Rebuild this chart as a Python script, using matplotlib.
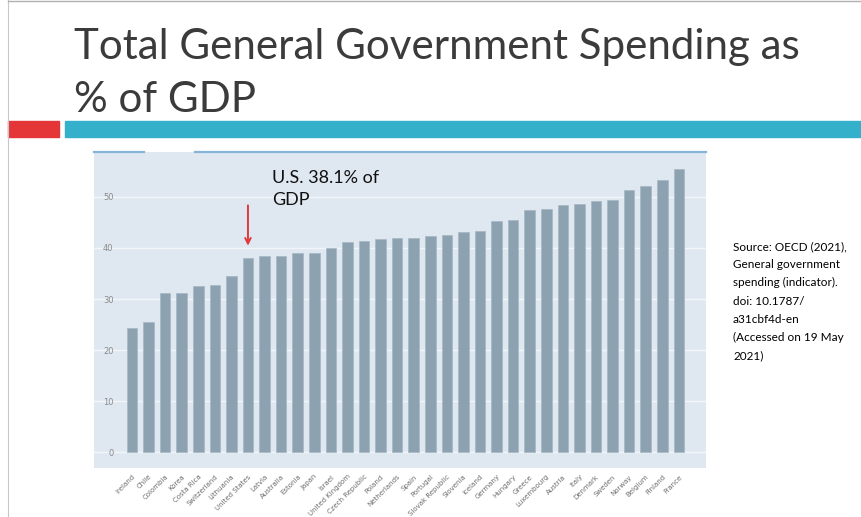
import matplotlib

matplotlib.use("Agg")
import matplotlib.pyplot as plt
from matplotlib.patches import Rectangle
from matplotlib.lines import Line2D

countries = [
    "Ireland", "Chile", "Colombia", "Korea", "Costa Rica", "Switzerland",
    "Lithuania", "United States", "Latvia", "Australia", "Estonia", "Japan",
    "Israel", "United Kingdom", "Czech Republic", "Poland", "Netherlands",
    "Spain", "Portugal", "Slovak Republic", "Slovenia", "Iceland", "Germany",
    "Hungary", "Greece", "Luxembourg", "Austria", "Italy", "Denmark",
    "Sweden", "Norway", "Belgium", "Finland", "France",
]
spending = [
    24.4, 25.5, 31.1, 31.1, 32.5, 32.7,
    34.6, 38.1, 38.5, 38.5, 39.0, 39.1,
    39.9, 41.1, 41.4, 41.8, 42.0,
    42.0, 42.4, 42.6, 43.2, 43.3, 45.2,
    45.5, 47.5, 47.7, 48.4, 48.6, 49.2,
    49.4, 51.4, 52.1, 53.3, 55.5,
]
y_ticks = [0, 10, 20, 30, 40, 50]
title_lines = ["Total General Government Spending as", "% of GDP"]
us_label = "U.S. 38.1% of\nGDP"
source_note = ("Source: OECD (2021),\nGeneral government\nspending (indicator).\n"
               "doi: 10.1787/\na31cbf4d-en\n(Accessed on 19 May\n2021)")

W, H = 861, 517
fig = plt.figure(figsize=(W / 100, H / 100), dpi=100)
fig.patch.set_facecolor("white")
renderer = fig.canvas.get_renderer()


def fx(px):
    return px / W


def fy(py):
    return 1 - py / H


def fit_width(txt, width_px):
    # shrink a text until it spans the given width in pixels
    w = txt.get_window_extent(renderer).width
    txt.set_fontsize(txt.get_fontsize() * width_px / w)


# slide frame and header bands
fig.add_artist(Line2D([fx(8), fx(8)], [fy(0), fy(517)], color="#c8c8c8", lw=0.8))
fig.add_artist(Line2D([fx(8), fx(861)], [fy(1), fy(1)], color="#b0b0b0", lw=1.0))
fig.add_artist(Rectangle((fx(8), fy(137)), fx(51), 16 / H,
                         color="#e43539", transform=fig.transFigure))
fig.add_artist(Rectangle((fx(65), fy(137)), fx(861 - 65), 16 / H,
                         color="#34b0ca", transform=fig.transFigure))

title_font = "Lato"
t1 = fig.text(fx(74), fy(59), title_lines[0], fontsize=36,
              family=title_font, color="#3b3b3b", va="baseline")
fit_width(t1, 727)
fig.text(fx(74), fy(112), title_lines[1], fontsize=t1.get_fontsize(),
         family=title_font, color="#3b3b3b", va="baseline")

# chart panel
left, right, top, bottom = 94, 706, 152, 468
ax = fig.add_axes([fx(left), fy(bottom), fx(right - left), (bottom - top) / H])
ax.set_facecolor("#dfe8f1")

x = list(range(len(countries)))
ax.bar(x, spending, width=0.64, color="#8da2b0", edgecolor="#a9bac6",
       linewidth=0.6, zorder=2)

ax.set_xlim(-2.29, 34.64)
ax.set_ylim(-3.1, 58.8)
ax.set_yticks(y_ticks)
ax.set_yticklabels([str(t) for t in y_ticks])
ax.yaxis.grid(True, color="#f2f6fa", lw=1.0, zorder=1)
ax.tick_params(axis="y", length=0, pad=-14, labelsize=6, labelcolor="#8a8a8a")
ax.set_xticks(x)
ax.set_xticklabels(countries, rotation=45, ha="right", va="top",
                   rotation_mode="anchor", fontsize=5.0, color="#6e6e6e")
ax.tick_params(axis="x", length=0, pad=4)
for s in ax.spines.values():
    s.set_visible(False)

# top border of the panel with a short break
fig.add_artist(Line2D([fx(94), fx(144)], [fy(152), fy(152)], color="#86b3d8", lw=1.6))
fig.add_artist(Line2D([fx(195), fx(706)], [fy(152), fy(152)], color="#86b3d8", lw=1.6))

us = countries.index("United States")
ax.annotate("", xy=(us, spending[us] + 1.8), xytext=(us, spending[us] + 10.8),
            arrowprops=dict(arrowstyle="->", color="#e0393b", lw=1.4,
                            mutation_scale=10))
fig.text(fx(272), fy(170), us_label, fontsize=13, color="#111111",
         va="top", linespacing=1.45, family="Lato")

fig.text(fx(733), fy(241), source_note, fontsize=8.5, color="#000000",
         va="top", linespacing=1.8, family="Lato")

fig.savefig("out.png", dpi=100)
